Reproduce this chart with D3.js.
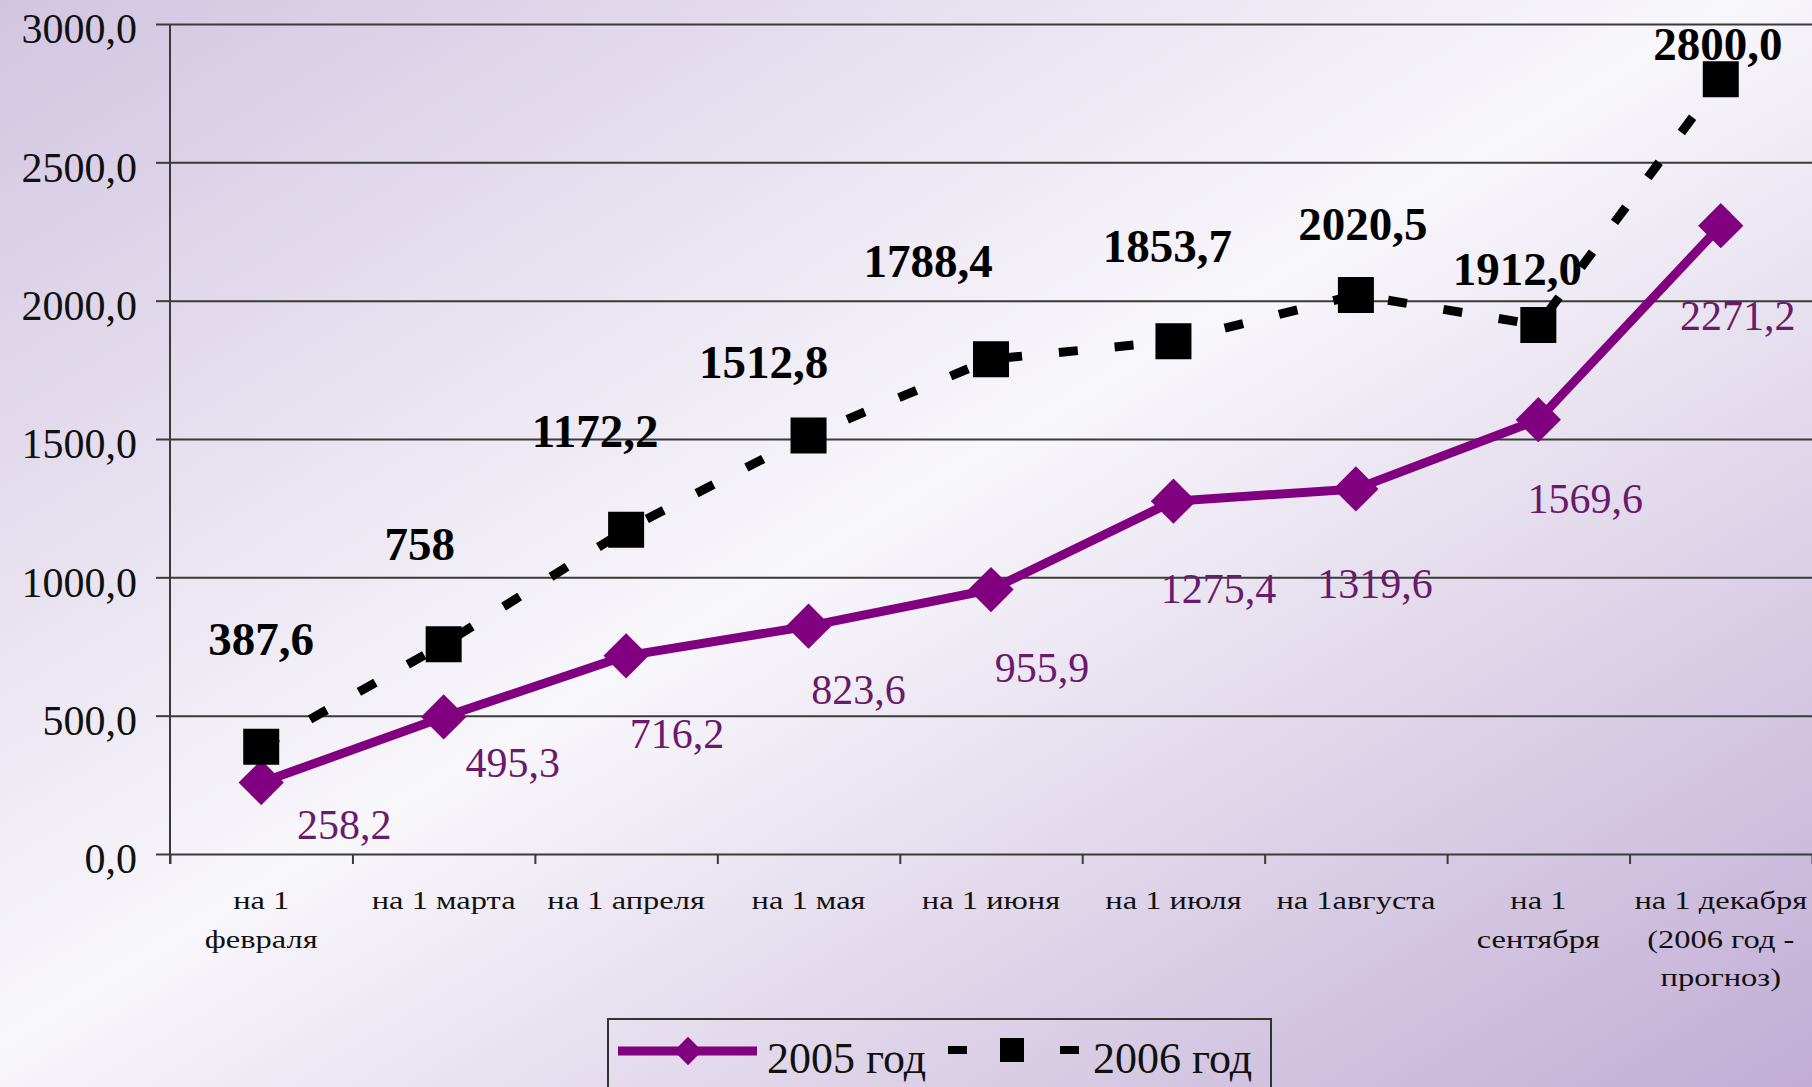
<!DOCTYPE html>
<html><head><meta charset="utf-8">
<script src="https://cdn.jsdelivr.net/npm/d3@7"></script>
<style>html,body{margin:0;padding:0;overflow:hidden;background:#fff}</style>
</head><body><svg id="chart" width="1812" height="1087"></svg>
<script>
// ---- data ----
const categories = ["на 1\nфевраля","на 1 марта","на 1 апреля","на 1 мая","на 1 июня","на 1 июля","на 1августа","на 1\nсентября","на 1 декабря\n(2006 год -\nпрогноз)"];
const values2005 = [258.2, 495.3, 716.2, 823.6, 955.9, 1275.4, 1319.6, 1569.6, 2271.2];
const values2006 = [387.6, 758, 1172.2, 1512.8, 1788.4, 1853.7, 2020.5, 1912.0, 2800.0];
const labels2005 = ["258,2","495,3","716,2","823,6","955,9","1275,4","1319,6","1569,6","2271,2"];
const labels2006 = ["387,6","758","1172,2","1512,8","1788,4","1853,7","2020,5","1912,0","2800,0"];
const yTicks = [0, 500, 1000, 1500, 2000, 2500, 3000];
const seriesNames = ["2005 год", "2006 год"];

// ---- layout / style ----
const W = 1812, H = 1087;
const mLeft = 170, mRight = 1812, mTop = 24, mBottom = 854;
const purple = "#800080", labelPurple = "#6a1a6a", gridCol = "#3a3a3a";
const serif = "'Liberation Serif','Times New Roman',serif";
// manual label nudges (px, relative to the point), as placed in the original
const nudge2005 = [[83,56],[69,60],[51,92],[50,78],[51,92],[45,102],[19,109],[47,93],[17,104]];
const nudge2006 = [[0,-92],[-24,-84],[-31,-83],[-45,-57],[-63,-82],[-6,-79],[7,-55],[-21,-40],[-3,-19]];

const svg = d3.select("#chart");
const defs = svg.append("defs");
const grad = defs.append("linearGradient").attr("id","bg")
  .attr("x1",0).attr("y1",0).attr("x2",1).attr("y2",1);
grad.append("stop").attr("offset","0%").attr("stop-color","#d2c5e1");
grad.append("stop").attr("offset","48%").attr("stop-color","#f8f7fb");
grad.append("stop").attr("offset","100%").attr("stop-color","#c1add5");
svg.append("rect").attr("width",W).attr("height",H).attr("fill","url(#bg)");

const x = d3.scaleBand().domain(categories).range([mLeft, mRight]).padding(0);
const cx = i => x(categories[i]) + x.bandwidth() / 2;
const y = d3.scaleLinear().domain([0, 3000]).range([mBottom, mTop]);
const fmt = d3.formatLocale({decimal: ",", thousands: " ", grouping: [3], currency: ["", ""]}).format(".1f");

// gridlines
const grid = svg.append("g").attr("transform", `translate(${mLeft},0)`)
  .call(d3.axisLeft(y).tickValues(yTicks.filter(v => v > 0)).tickSize(-(mRight - mLeft)).tickFormat(""));
grid.select(".domain").remove();
grid.selectAll("line").attr("stroke", gridCol).attr("stroke-width", 2);

// y axis
const ya = svg.append("g").attr("transform", `translate(${mLeft},0)`)
  .call(d3.axisLeft(y).tickValues(yTicks).tickSize(14).tickPadding(19).tickFormat(fmt));
ya.select(".domain").remove();
ya.selectAll("line").attr("stroke", gridCol).attr("stroke-width", 2);
ya.selectAll("text").attr("font-family", serif).attr("font-size", 42).attr("fill", "#111").attr("dy", "0.45em");
svg.append("line").attr("x1", mLeft).attr("x2", mLeft).attr("y1", mTop).attr("y2", mBottom + 10)
  .attr("stroke", gridCol).attr("stroke-width", 2);

// x axis (ticks at category boundaries)
const xb = d3.scaleLinear().domain([0, categories.length]).range([mLeft, mRight]);
const xa = svg.append("g").attr("transform", `translate(0,${mBottom})`)
  .call(d3.axisBottom(xb).tickValues(d3.range(0, categories.length + 1)).tickSize(10).tickSizeOuter(0).tickFormat(""));
xa.select(".domain").attr("stroke", gridCol).attr("stroke-width", 2);
xa.selectAll("line").attr("stroke", gridCol).attr("stroke-width", 2);

// category labels
categories.forEach((c, i) => {
  c.split("\n").forEach((ln, k) => {
    svg.append("text")
      .attr("transform", `translate(${cx(i)},${mBottom + 55 + k * 38.5}) scale(1.3,1)`)
      .attr("text-anchor", "middle").attr("font-family", serif).attr("font-size", 25)
      .attr("fill", "#111").text(ln);
  });
});

// 2005 series
const line = d3.line().x((d, i) => cx(i)).y(d => y(d));
svg.append("path").datum(values2005).attr("d", line).attr("fill", "none")
  .attr("stroke", purple).attr("stroke-width", 9).attr("stroke-linejoin", "round");
svg.append("g").selectAll("path").data(values2005).join("path")
  .attr("d", d3.symbol(d3.symbolSquare, 32 * 32))
  .attr("transform", (d, i) => `translate(${cx(i)},${y(d)}) rotate(45)`)
  .attr("fill", purple);

// 2006 series
svg.append("path").datum(values2006).attr("d", line).attr("fill", "none")
  .attr("stroke", "#000").attr("stroke-width", 9).attr("stroke-dasharray", "19,37");
svg.append("g").selectAll("path").data(values2006).join("path")
  .attr("d", d3.symbol(d3.symbolSquare, 36 * 36))
  .attr("transform", (d, i) => `translate(${cx(i)},${y(d)})`)
  .attr("fill", "#000");

// data labels
svg.append("g").selectAll("text").data(values2005).join("text")
  .attr("x", (d, i) => cx(i) + nudge2005[i][0]).attr("y", (d, i) => y(d) + nudge2005[i][1])
  .attr("text-anchor", "middle").attr("font-family", serif).attr("font-size", 42)
  .attr("fill", labelPurple).text((d, i) => labels2005[i]);
svg.append("g").selectAll("text").data(values2006).join("text")
  .attr("x", (d, i) => cx(i) + nudge2006[i][0]).attr("y", (d, i) => y(d) + nudge2006[i][1])
  .attr("text-anchor", "middle").attr("font-family", serif).attr("font-size", 47).attr("font-weight", "bold")
  .attr("fill", "#000").text((d, i) => labels2006[i]);

// legend
const lg = svg.append("g");
lg.append("rect").attr("x", 608).attr("y", 1019).attr("width", 663).attr("height", 120)
  .attr("fill", "none").attr("stroke", "#333").attr("stroke-width", 2);
lg.append("line").attr("x1", 618).attr("x2", 757).attr("y1", 1051).attr("y2", 1051)
  .attr("stroke", purple).attr("stroke-width", 9);
lg.append("path").attr("d", d3.symbol(d3.symbolSquare, 20 * 20))
  .attr("transform", "translate(688,1051) rotate(45)").attr("fill", purple);
lg.append("text").attr("x", 767).attr("y", 1073).attr("font-family", serif).attr("font-size", 44)
  .attr("fill", "#111").text(seriesNames[0]);
lg.append("line").attr("x1", 948).attr("x2", 1081).attr("y1", 1050).attr("y2", 1050)
  .attr("stroke", "#000").attr("stroke-width", 8).attr("stroke-dasharray", "19,37");
lg.append("path").attr("d", d3.symbol(d3.symbolSquare, 24 * 24))
  .attr("transform", "translate(1012,1050)").attr("fill", "#000");
lg.append("text").attr("x", 1093).attr("y", 1073).attr("font-family", serif).attr("font-size", 44)
  .attr("fill", "#111").text(seriesNames[1]);
</script>
</body></html>
